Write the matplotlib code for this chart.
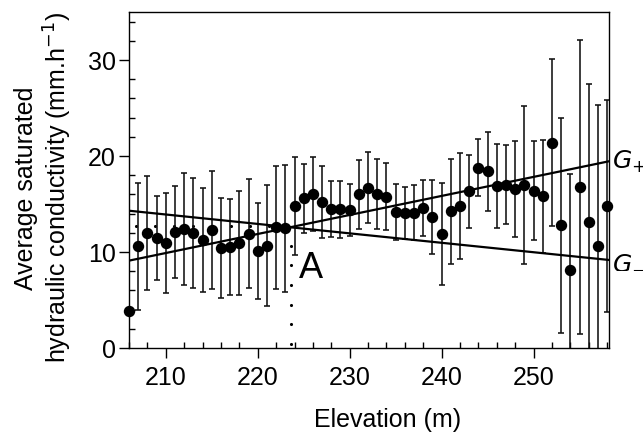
import numpy as np
import matplotlib
matplotlib.use("Agg")
import matplotlib.pyplot as plt
from matplotlib.ticker import MultipleLocator

plt.rcParams['font.family'] = ['Liberation Sans', 'DejaVu Sans']

# ---- data ----
elevation = list(range(206, 259))
conductivity = [3.9, 10.6, 11.95, 11.46, 10.94, 12.08, 12.4, 11.98, 11.28, 12.29,
                10.45, 10.55, 10.94, 11.9, 10.14, 10.66, 12.57, 12.47, 14.82, 15.6,
                16.07, 15.24, 14.48, 14.44, 14.37, 16.0, 16.7, 16.04, 15.76, 14.2,
                14.1, 14.1, 14.58, 13.65, 11.9, 14.23, 14.8, 16.35, 18.8, 18.4,
                16.9, 17.0, 16.56, 17.0, 16.4, 15.8, 21.4, 12.8, 8.16, 16.8,
                13.1, 10.66, 14.76]
error = [0.0, 6.6, 5.95, 4.35, 5.2, 4.76, 5.8, 5.7, 5.4, 6.1,
         5.2, 5.0, 5.4, 5.7, 5.0, 6.3, 6.4, 6.6, 5.1, 3.6,
         3.85, 3.75, 2.95, 2.96, 2.7, 3.6, 3.7, 3.6, 3.5, 2.9,
         2.7, 2.9, 2.95, 3.9, 5.3, 5.5, 5.5, 3.8, 3.0, 4.1,
         4.4, 4.1, 5.0, 8.2, 5.2, 5.9, 8.7, 11.2, 10.0, 15.3,
         14.4, 14.7, 11.05]

# regression lines (end points)
line_x = [206.0, 258.2]
g_plus = [9.1, 19.45]
g_minus = [14.3, 9.17]

# point A guide (dotted L)
guide_x = [206.76, 223.6]
guide_y = [12.7, 0.0]
label_A = "A"

xlim = (206.0, 258.2)
ylim = (0, 35)
xticks = [210, 220, 230, 240, 250]
yticks = [0, 10, 20, 30]

FS = 18

fig = plt.figure(figsize=(6.43, 4.35), dpi=100)
ax = fig.add_axes([129/643, 1-349/435, (609-129)/643, (349-13)/435])

# dotted guide
hx = np.arange(guide_x[0], guide_x[1] + 0.01, 2.07)
vy = np.arange(guide_y[0], guide_y[1] - 0.01, -2.05)[1:]
ax.scatter(hx, np.full_like(hx, guide_y[0]), s=5, color='black', zorder=1, linewidths=0)
ax.scatter(np.full_like(vy, guide_x[1]), vy, s=5, color='black', zorder=1, linewidths=0)

ax.errorbar(elevation, conductivity, yerr=error, fmt='none',
            ecolor='#111111', elinewidth=1.15, capsize=2.4, capthick=1.15, zorder=2)
ax.plot(elevation, conductivity, 'o', color='black', markersize=7.2,
        zorder=5, clip_on=False)

ax.plot(line_x, g_plus, color='black', lw=1.6, zorder=4)
ax.plot(line_x, g_minus, color='black', lw=1.6, zorder=4)

ax.text(guide_x[1] + 0.9, 8.4, label_A, fontsize=26, ha='left', va='center')
ax.text(line_x[1] + 0.3, g_plus[1], r'$G_{+}$', fontsize=FS, ha='left', va='center',
        clip_on=False, math_fontfamily='dejavusans')
ax.text(line_x[1] + 0.3, g_minus[1], r'$G_{-}$', fontsize=FS, ha='left', va='center',
        clip_on=False, math_fontfamily='dejavusans')

ax.set_xlim(*xlim)
ax.set_ylim(*ylim)
ax.set_xticks(xticks)
ax.set_yticks(yticks)
ax.xaxis.set_minor_locator(MultipleLocator(2))
ax.yaxis.set_minor_locator(MultipleLocator(2))
ax.tick_params(which='major', direction='out', length=7, width=1, labelsize=FS)
ax.tick_params(axis='x', which='major', pad=5)
ax.tick_params(axis='y', which='major', pad=2.5)
ax.tick_params(which='minor', direction='in', length=4.5, width=1)
for s in ax.spines.values():
    s.set_linewidth(1.0)

fig.text(388/643, 1 - 427/435, 'Elevation (m)', fontsize=FS, ha='center', va='baseline')
fig.text(44/643, 1 - 188/435,
         'Average saturated\nhydraulic conductivity (mm.h$^{-1}$)',
         fontsize=FS, rotation=90, ha='center', va='center',
         multialignment='center', linespacing=1.15)

fig.savefig('out.png', dpi=100)
